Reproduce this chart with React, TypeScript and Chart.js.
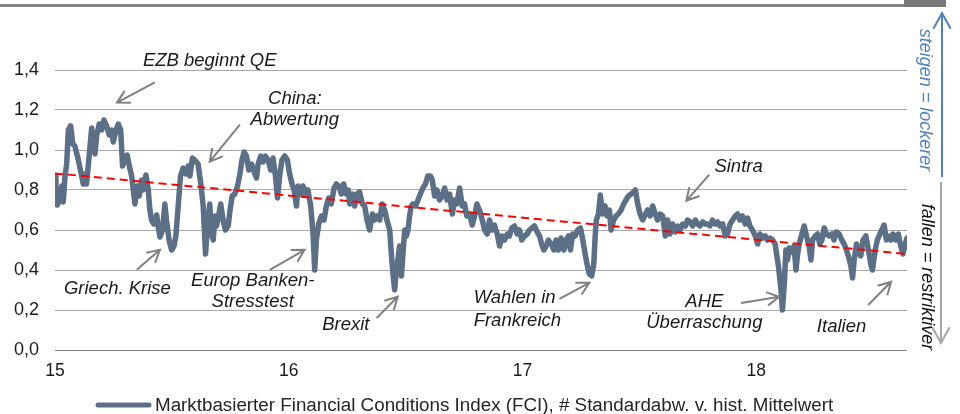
import React, { useEffect, useRef } from 'react';
import { Chart, registerables } from 'chart.js';

Chart.register(...registerables);

// ---- data (x = year, e.g. 15.5 = mid 2015) ----
const fciYears = [
  15.000,15.004,15.010,15.018,15.029,15.035,15.043,15.050,15.057,15.067,
  15.076,15.085,15.100,15.114,15.121,15.128,15.135,15.147,15.157,15.164,
  15.171,15.178,15.189,15.200,15.209,15.221,15.232,15.242,15.249,15.261,
  15.271,15.281,15.289,15.299,15.309,15.318,15.328,15.335,15.342,15.352,
  15.360,15.371,15.377,15.389,15.399,15.406,15.413,15.423,15.435,15.441,
  15.449,15.460,15.470,15.477,15.488,15.499,15.509,15.517,15.527,15.537,
  15.548,15.560,15.570,15.577,15.588,15.598,15.612,15.624,15.634,15.644,
  15.653,15.662,15.670,15.677,15.684,15.691,15.701,15.709,15.719,15.729,
  15.741,15.749,15.758,15.769,15.781,15.791,15.800,15.809,15.819,15.829,
  15.841,15.852,15.862,15.869,15.880,15.890,15.900,15.912,15.923,15.933,
  15.943,15.952,15.962,15.971,15.983,15.994,16.004,16.014,16.023,16.033,
  16.040,16.051,16.061,16.071,16.082,16.094,16.104,16.111,16.118,16.128,
  16.140,16.151,16.161,16.171,16.182,16.194,16.204,16.214,16.225,16.235,
  16.246,16.254,16.261,16.272,16.282,16.292,16.303,16.315,16.325,16.335,
  16.346,16.358,16.368,16.377,16.389,16.400,16.410,16.420,16.432,16.439,
  16.446,16.453,16.460,16.467,16.474,16.482,16.488,16.496,16.503,16.510,
  16.517,16.524,16.531,16.543,16.553,16.563,16.574,16.585,16.595,16.606,
  16.614,16.624,16.634,16.645,16.657,16.667,16.677,16.688,16.700,16.709,
  16.719,16.731,16.742,16.752,16.762,16.774,16.785,16.795,16.805,16.816,
  16.828,16.838,16.849,16.859,16.869,16.880,16.892,16.902,16.912,16.923,
  16.935,16.944,16.954,16.966,16.977,16.987,16.997,17.009,17.020,17.030,
  17.040,17.051,17.063,17.073,17.082,17.091,17.101,17.111,17.123,17.134,
  17.144,17.154,17.165,17.177,17.187,17.197,17.205,17.215,17.225,17.236,
  17.248,17.258,17.268,17.276,17.286,17.296,17.305,17.311,17.316,17.325,
  17.333,17.343,17.353,17.362,17.372,17.379,17.390,17.400,17.410,17.422,
  17.433,17.443,17.453,17.465,17.476,17.483,17.493,17.503,17.514,17.526,
  17.535,17.546,17.557,17.568,17.578,17.588,17.600,17.611,17.621,17.631,
  17.642,17.654,17.664,17.674,17.685,17.697,17.706,17.717,17.728,17.739,
  17.749,17.759,17.771,17.782,17.792,17.802,17.813,17.825,17.835,17.845,
  17.856,17.868,17.877,17.888,17.899,17.910,17.920,17.930,17.941,17.953,
  17.963,17.973,17.984,17.996,18.006,18.016,18.027,18.038,18.048,18.059,
  18.070,18.081,18.087,18.095,18.106,18.112,18.120,18.127,18.134,18.141,
  18.153,18.162,18.170,18.177,18.184,18.195,18.205,18.215,18.226,18.234,
  18.241,18.252,18.262,18.272,18.281,18.291,18.300,18.312,18.324,18.333,
  18.343,18.355,18.366,18.376,18.386,18.394,18.405,18.412,18.419,18.429,
  18.437,18.447,18.457,18.469,18.480,18.490,18.497,18.509,18.518,18.529,
  18.537,18.547,18.557,18.565,18.576,18.585,18.597,18.608,18.618,18.628,
  18.637,18.645,
];

const fciValues = [
  0.87,0.77,0.725,0.75,0.82,0.74,0.87,0.93,1.10,1.12,
  1.03,1.02,0.95,0.87,0.83,0.88,0.83,0.98,1.11,1.05,
  0.98,1.07,1.13,1.10,1.15,1.12,1.075,1.10,1.04,1.10,
  1.13,1.10,0.92,0.95,0.975,0.92,0.87,0.80,0.73,0.82,
  0.77,0.85,0.80,0.875,0.80,0.70,0.65,0.63,0.675,0.62,
  0.565,0.60,0.73,0.65,0.55,0.50,0.52,0.57,0.72,0.87,
  0.91,0.88,0.92,0.87,0.96,0.95,0.93,0.83,0.72,0.48,
  0.63,0.73,0.58,0.55,0.67,0.62,0.68,0.73,0.65,0.60,
  0.62,0.70,0.77,0.78,0.82,0.88,0.95,0.99,0.97,0.90,
  0.93,0.89,0.86,0.93,0.97,0.94,0.97,0.95,0.90,0.96,
  0.87,0.76,0.88,0.95,0.97,0.95,0.88,0.83,0.80,0.72,
  0.82,0.78,0.82,0.78,0.80,0.72,0.58,0.40,0.55,0.63,
  0.67,0.65,0.72,0.76,0.73,0.81,0.83,0.82,0.78,0.83,
  0.78,0.80,0.73,0.78,0.72,0.78,0.79,0.73,0.72,0.65,
  0.60,0.68,0.65,0.67,0.65,0.73,0.70,0.65,0.60,0.48,
  0.38,0.30,0.40,0.45,0.52,0.37,0.47,0.60,0.57,0.60,
  0.67,0.72,0.73,0.72,0.75,0.78,0.81,0.83,0.87,0.87,
  0.85,0.77,0.80,0.75,0.77,0.81,0.75,0.78,0.68,0.75,
  0.73,0.81,0.72,0.73,0.67,0.68,0.625,0.67,0.73,0.70,
  0.65,0.60,0.58,0.65,0.60,0.625,0.58,0.52,0.57,0.55,
  0.58,0.57,0.61,0.62,0.58,0.60,0.55,0.57,0.58,0.60,
  0.61,0.62,0.59,0.57,0.53,0.50,0.52,0.55,0.53,0.50,
  0.55,0.50,0.56,0.50,0.55,0.57,0.50,0.58,0.57,0.60,
  0.61,0.55,0.48,0.43,0.38,0.37,0.43,0.57,0.65,0.68,
  0.775,0.68,0.72,0.67,0.70,0.60,0.65,0.67,0.68,0.70,
  0.73,0.75,0.77,0.78,0.79,0.80,0.73,0.68,0.65,0.68,
  0.70,0.67,0.72,0.68,0.65,0.68,0.67,0.57,0.65,0.58,
  0.63,0.59,0.62,0.60,0.63,0.62,0.65,0.64,0.62,0.65,
  0.63,0.62,0.64,0.63,0.63,0.62,0.65,0.63,0.64,0.62,
  0.63,0.57,0.58,0.63,0.65,0.67,0.68,0.65,0.67,0.63,
  0.66,0.62,0.60,0.57,0.53,0.58,0.56,0.57,0.55,0.56,
  0.55,0.53,0.48,0.42,0.30,0.20,0.33,0.50,0.45,0.51,
  0.49,0.52,0.40,0.48,0.53,0.58,0.62,0.57,0.52,0.45,
  0.55,0.57,0.58,0.53,0.55,0.61,0.58,0.57,0.58,0.55,
  0.59,0.58,0.55,0.53,0.50,0.47,0.42,0.36,0.45,0.53,
  0.50,0.47,0.55,0.57,0.50,0.43,0.40,0.50,0.55,0.58,
  0.60,0.625,0.55,0.57,0.55,0.58,0.55,0.58,0.52,0.48,
  0.53,0.56,
];

const trendYears = [15.0, 18.645];
const trendValues = [0.883, 0.48];

const xTickValues = [15, 16, 17, 18];
const yTickValues = [0, 0.2, 0.4, 0.6, 0.8, 1.0, 1.2, 1.4];

const seriesLabel =
  'Marktbasierter Financial Conditions Index (FCI), # Standardabw. v. hist. Mittelwert';

// annotation texts placed in data coordinates (year, value)
const noteTexts = [
  { text: 'EZB beginnt QE', x: 15.376, y: 1.448, align: 'left' },
  { text: 'China:', x: 16.026, y: 1.257, align: 'center' },
  { text: 'Abwertung', x: 16.026, y: 1.152, align: 'center' },
  { text: 'Griech. Krise', x: 15.267, y: 0.306, align: 'center' },
  { text: 'Europ Banken-', x: 15.846, y: 0.346, align: 'center' },
  { text: 'Stresstest', x: 15.846, y: 0.24, align: 'center' },
  { text: 'Brexit', x: 16.244, y: 0.125, align: 'center' },
  { text: 'Wahlen in', x: 16.791, y: 0.26, align: 'left' },
  { text: 'Frankreich', x: 16.791, y: 0.145, align: 'left' },
  { text: 'Sintra', x: 17.821, y: 0.917, align: 'left' },
  { text: 'AHE', x: 17.778, y: 0.24, align: 'center' },
  { text: 'Überraschung', x: 17.778, y: 0.135, align: 'center' },
  { text: 'Italien', x: 18.365, y: 0.115, align: 'center' },
];

// arrows: from (x1,y1) to tip (x2,y2), data coordinates
const noteArrows = [
  { x1: 15.427, y1: 1.338, x2: 15.265, y2: 1.237 },
  { x1: 15.791, y1: 1.127, x2: 15.662, y2: 0.942 },
  { x1: 15.35, y1: 0.401, x2: 15.449, y2: 0.501 },
  { x1: 15.919, y1: 0.401, x2: 16.068, y2: 0.501 },
  { x1: 16.376, y1: 0.16, x2: 16.466, y2: 0.266 },
  { x1: 17.158, y1: 0.256, x2: 17.286, y2: 0.336 },
  { x1: 17.799, y1: 0.877, x2: 17.701, y2: 0.746 },
  { x1: 17.936, y1: 0.235, x2: 18.098, y2: 0.266 },
  { x1: 18.479, y1: 0.225, x2: 18.577, y2: 0.341 },
];

const FONT = '"Liberation Sans", Arial, Helvetica, sans-serif';

function drawArrow(ctx: CanvasRenderingContext2D, x1: number, y1: number, x2: number, y2: number, head = 14) {
  const ang = Math.atan2(y2 - y1, x2 - x1);
  const spread = 0.5;
  ctx.beginPath();
  ctx.moveTo(x1, y1);
  ctx.lineTo(x2, y2);
  ctx.moveTo(x2 - head * Math.cos(ang - spread), y2 - head * Math.sin(ang - spread));
  ctx.lineTo(x2, y2);
  ctx.lineTo(x2 - head * Math.cos(ang + spread), y2 - head * Math.sin(ang + spread));
  ctx.stroke();
}

const overlayPlugin = {
  id: 'overlay',
  afterDraw(chart: any) {
    const { ctx, chartArea } = chart;
    const xs = chart.scales.x;
    const ys = chart.scales.y;
    ctx.save();

    // header bar
    ctx.fillStyle = '#858585';
    ctx.fillRect(0, 4, 904, 3);
    ctx.fillStyle = '#7a7a7a';
    ctx.fillRect(904, 0, 42, 7);

    // annotation arrows
    ctx.strokeStyle = '#808080';
    ctx.lineWidth = 2;
    ctx.lineCap = 'butt';
    ctx.lineJoin = 'miter';
    for (const a of noteArrows) {
      drawArrow(
        ctx,
        xs.getPixelForValue(a.x1), ys.getPixelForValue(a.y1),
        xs.getPixelForValue(a.x2), ys.getPixelForValue(a.y2)
      );
    }

    // annotation texts
    ctx.font = `italic 18.5px ${FONT}`;
    ctx.fillStyle = '#1a1a1a';
    ctx.textBaseline = 'middle';
    for (const t of noteTexts) {
      ctx.textAlign = t.align as CanvasTextAlign;
      ctx.fillText(t.text, xs.getPixelForValue(t.x), ys.getPixelForValue(t.y));
    }

    // right side indicator arrows
    const ax = chartArea.right + 35;
    ctx.lineWidth = 2;
    ctx.strokeStyle = '#4f81bd';
    drawArrow(ctx, ax, 177, ax, 13, 18);
    ctx.strokeStyle = '#a6a6a6';
    drawArrow(ctx, ax - 1, 182, ax - 1, 343, 18);

    ctx.font = `italic 18px ${FONT}`;
    ctx.textAlign = 'center';
    ctx.textBaseline = 'middle';
    ctx.save();
    ctx.translate(ax - 17, 100);
    ctx.rotate(Math.PI / 2);
    ctx.fillStyle = '#4f81bd';
    ctx.fillText('steigen = lockerer', 0, 0);
    ctx.restore();
    ctx.save();
    ctx.translate(ax - 15, 277);
    ctx.rotate(Math.PI / 2);
    ctx.fillStyle = '#111111';
    ctx.fillText('fallen = restriktiver', 0, 0);
    ctx.restore();

    // legend
    const ds = chart.data.datasets[1];
    ctx.strokeStyle = ds.borderColor;
    ctx.lineWidth = 5;
    ctx.lineCap = 'round';
    ctx.beginPath();
    ctx.moveTo(98, 405);
    ctx.lineTo(149, 405);
    ctx.stroke();
    ctx.font = `18.8px ${FONT}`;
    ctx.fillStyle = '#262626';
    ctx.textAlign = 'left';
    ctx.textBaseline = 'middle';
    ctx.fillText(ds.label, 155, 406);

    ctx.restore();
  },
};

export default function App() {
  const canvasRef = useRef<HTMLCanvasElement | null>(null);

  useEffect(() => {
    if (!canvasRef.current) return;
    const fciPoints = fciYears.map((x, i) => ({ x, y: fciValues[i] }));
    const trendPoints = trendYears.map((x, i) => ({ x, y: trendValues[i] }));

    const chart = new Chart(canvasRef.current, {
      type: 'line',
      data: {
        datasets: [
          {
            label: 'Trend',
            data: trendPoints,
            borderColor: '#ff0000',
            borderWidth: 2,
            borderDash: [8, 5],
            pointRadius: 0,
            fill: false,
            order: 0,
          },
          {
            label: seriesLabel,
            data: fciPoints,
            borderColor: '#5b6f86',
            backgroundColor: '#5b6f86',
            borderWidth: 5.5,
            borderJoinStyle: 'round',
            borderCapStyle: 'round',
            pointRadius: 0,
            tension: 0,
            fill: false,
            order: 1,
          },
        ],
      },
      options: {
        responsive: false,
        animation: false,
        devicePixelRatio: 1,
        layout: { padding: { left: 0, right: 53, top: 70, bottom: 0 } },
        plugins: {
          legend: { display: false },
          tooltip: { enabled: false },
        },
        scales: {
          x: {
            type: 'linear',
            min: 15,
            max: 18.645,
            afterBuildTicks: (scale: any) => {
              scale.ticks = xTickValues.map((v) => ({ value: v }));
            },
            afterFit: (scale: any) => {
              scale.height = 64;
            },
            grid: { display: false, drawTicks: false },
            border: { display: false },
            ticks: {
              padding: 11,
              color: '#1a1a1a',
              font: { family: FONT, size: 17.5 },
              callback: (v: any) => String(Math.round(Number(v))),
              maxRotation: 0,
            },
          },
          y: {
            type: 'linear',
            min: 0,
            max: 1.4,
            afterBuildTicks: (scale: any) => {
              scale.ticks = yTickValues.map((v) => ({ value: v }));
            },
            afterFit: (scale: any) => {
              scale.width = 55;
            },
            grid: {
              drawTicks: false,
              color: (c: any) => (c.tick && Math.abs(c.tick.value) < 1e-9 ? '#7f7f7f' : '#a9a9a9'),
              lineWidth: 1,
            },
            border: { display: false },
            ticks: {
              padding: 16,
              color: '#1a1a1a',
              font: { family: FONT, size: 18 },
              callback: (v: any) => Number(v).toFixed(1).replace('.', ','),
            },
          },
        },
      },
      plugins: [overlayPlugin],
    });

    return () => chart.destroy();
  }, []);

  return (
    <div style={{ position: 'absolute', left: 0, top: 0, width: 960, height: 414, background: '#fff' }}>
      <canvas ref={canvasRef} width={960} height={414} style={{ width: 960, height: 414, display: 'block' }} />
    </div>
  );
}
